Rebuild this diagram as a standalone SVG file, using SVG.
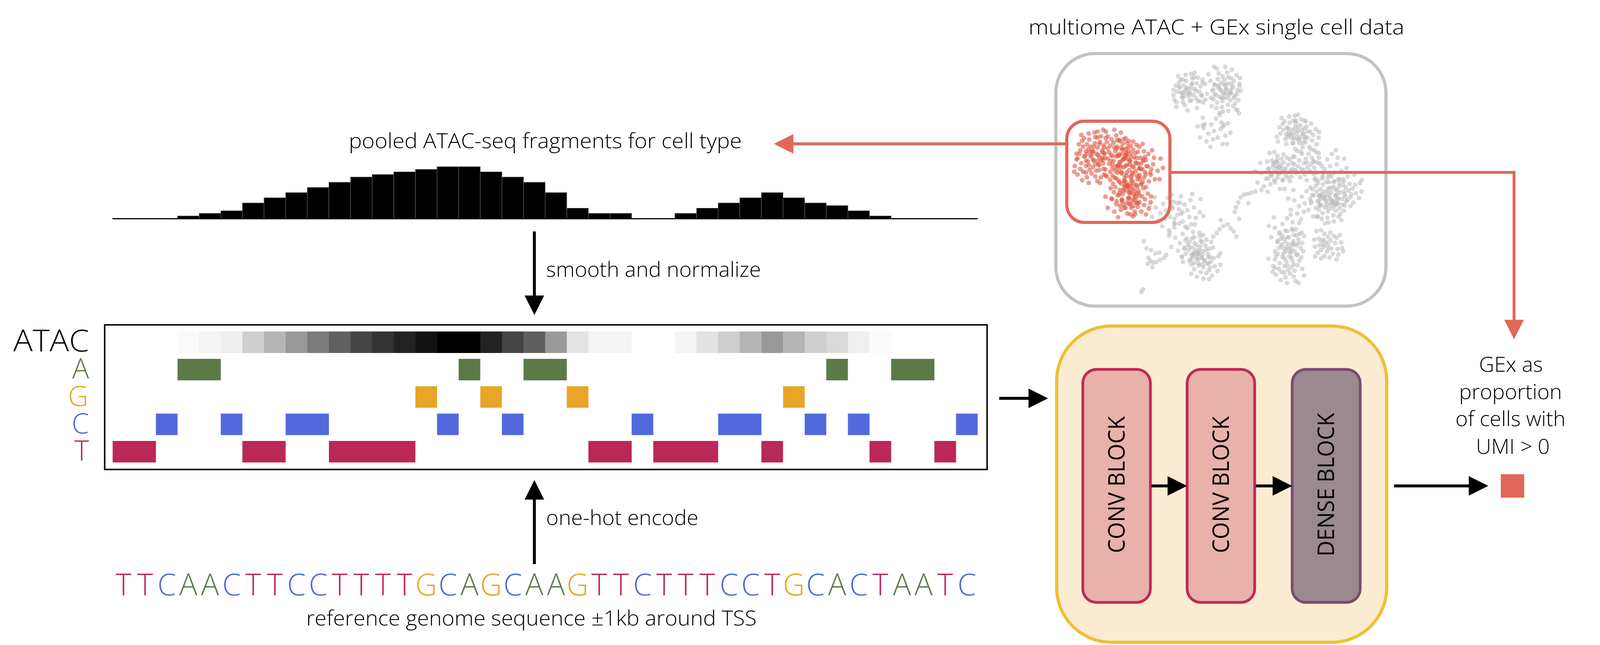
<svg xmlns="http://www.w3.org/2000/svg" xmlns:xlink="http://www.w3.org/1999/xlink" width="4100" height="1650" viewBox="0 0 4100 1650">
<style>
text{font-family:'Open Sans','Noto Sans','DejaVu Sans',sans-serif;font-weight:300;fill:#000}
.lbl{font-size:54px}
.big{font-size:77px}
.row{font-size:72px}
.blk{font-size:58px;font-weight:400}
.nA{fill:#5c7a48}.nG{fill:#e8a526}.nC{fill:#5169dd}.nT{fill:#bb2756}
.conn{fill:none;stroke:#000;stroke-width:7.5}
.rconn{fill:none;stroke:#e0685a;stroke-width:7.5}
.gray{fill:#b9b9b9;fill-opacity:.55}
.red{fill:#de5a45;fill-opacity:.6}
.bar{fill:#000;stroke:#666;stroke-width:1.2;vector-effect:non-scaling-stroke}
</style>
<defs>
<marker id="ah" viewBox="0 0 50 50" refX="30" refY="25" markerWidth="50" markerHeight="50" markerUnits="userSpaceOnUse" orient="auto"><path d="M0,0 L50,25 L0,50 z" fill="#000"/></marker>
<marker id="ahr" viewBox="0 0 50 50" refX="30" refY="25" markerWidth="50" markerHeight="50" markerUnits="userSpaceOnUse" orient="auto"><path d="M0,0 L50,25 L0,50 z" fill="#e0685a"/></marker>
<g id="P">
<circle cx="0" cy="0" r="5"/><circle cx="-8" cy="-5" r="5"/><circle cx="9" cy="-7" r="5"/><circle cx="5" cy="9" r="5"/><circle cx="-10" cy="10" r="5"/><circle cx="15" cy="2" r="5"/><circle cx="-3" cy="-15" r="5"/><circle cx="-16" cy="0" r="5"/><circle cx="12" cy="15" r="5"/><circle cx="2" cy="18" r="5"/><circle cx="20" cy="-10" r="5"/><circle cx="-18" cy="-12" r="5"/><circle cx="-5" cy="5" r="5"/><circle cx="10" cy="-20" r="5"/><circle cx="25" cy="8" r="5"/><circle cx="-12" cy="20" r="5"/><circle cx="5" cy="28" r="5"/><circle cx="18" cy="22" r="5"/><circle cx="-22" cy="8" r="5"/><circle cx="28" cy="-3" r="5"/><circle cx="-4" cy="-28" r="5"/><circle cx="22" cy="-22" r="5"/><circle cx="-25" cy="-5" r="5"/><circle cx="8" cy="-30" r="5"/><circle cx="-10" cy="30" r="5"/><circle cx="30" cy="15" r="5"/><circle cx="-30" cy="15" r="5"/><circle cx="15" cy="-32" r="5"/><circle cx="-20" cy="-25" r="5"/><circle cx="32" cy="-18" r="5"/><circle cx="0" cy="10" r="5"/><circle cx="-7" cy="15" r="5"/><circle cx="7" cy="0" r="5"/><circle cx="-14" cy="-18" r="5"/><circle cx="26" cy="28" r="5"/><circle cx="-28" cy="25" r="5"/>
</g>
<g id="Q">
<circle cx="2" cy="-2" r="5"/><circle cx="-5" cy="4" r="5"/><circle cx="10" cy="6" r="5"/><circle cx="-2" cy="-10" r="5"/><circle cx="-12" cy="-4" r="5"/><circle cx="16" cy="-6" r="5"/><circle cx="6" cy="16" r="5"/><circle cx="-7" cy="18" r="5"/><circle cx="20" cy="12" r="5"/><circle cx="-18" cy="8" r="5"/><circle cx="8" cy="-18" r="5"/><circle cx="-10" cy="-16" r="5"/><circle cx="22" cy="0" r="5"/><circle cx="0" cy="26" r="5"/><circle cx="14" cy="26" r="5"/><circle cx="-22" cy="18" r="5"/><circle cx="28" cy="-12" r="5"/><circle cx="-16" cy="30" r="5"/><circle cx="4" cy="-30" r="5"/><circle cx="30" cy="20" r="5"/><circle cx="-28" cy="0" r="5"/><circle cx="18" cy="-24" r="5"/><circle cx="-4" cy="36" r="5"/><circle cx="34" cy="6" r="5"/><circle cx="-32" cy="-14" r="5"/><circle cx="10" cy="-8" r="5"/><circle cx="4" cy="8" r="5"/><circle cx="-10" cy="10" r="5"/><circle cx="24" cy="32" r="5"/><circle cx="-20" cy="-30" r="5"/><circle cx="35" cy="-6" r="5"/><circle cx="-14" cy="-26" r="5"/>
</g>
<g id="R">
<circle cx="0" cy="0" r="5"/><circle cx="-12" cy="6" r="5"/><circle cx="14" cy="-4" r="5"/><circle cx="-6" cy="-14" r="5"/><circle cx="8" cy="14" r="5"/><circle cx="24" cy="10" r="5"/><circle cx="-22" cy="-6" r="5"/><circle cx="4" cy="-26" r="5"/><circle cx="-16" cy="22" r="5"/><circle cx="30" cy="-16" r="5"/><circle cx="-30" cy="14" r="5"/><circle cx="18" cy="28" r="5"/><circle cx="-8" cy="34" r="5"/><circle cx="35" cy="4" r="5"/><circle cx="-35" cy="-10" r="5"/><circle cx="12" cy="-34" r="5"/><circle cx="-24" cy="-28" r="5"/><circle cx="28" cy="28" r="5"/><circle cx="-2" cy="18" r="5"/><circle cx="16" cy="-18" r="5"/>
</g>
</defs>
<rect width="4100" height="1650" fill="#fff"/>

<g id="atac-histogram">
<text class="lbl" x="893" y="379" textLength="1006" lengthAdjust="spacingAndGlyphs">pooled ATAC-seq fragments for cell type</text>
<g transform="translate(288.4,559) scale(55.36,-6.63)">
<rect class="bar" x="3" y="0" width="1" height="1"/><rect class="bar" x="4" y="0" width="1" height="2"/><rect class="bar" x="5" y="0" width="1" height="3"/><rect class="bar" x="6" y="0" width="1" height="6"/><rect class="bar" x="7" y="0" width="1" height="8"/><rect class="bar" x="8" y="0" width="1" height="10"/><rect class="bar" x="9" y="0" width="1" height="12"/><rect class="bar" x="10" y="0" width="1" height="14"/><rect class="bar" x="11" y="0" width="1" height="16"/><rect class="bar" x="12" y="0" width="1" height="17"/><rect class="bar" x="13" y="0" width="1" height="18"/><rect class="bar" x="14" y="0" width="1" height="19"/><rect class="bar" x="15" y="0" width="1" height="20"/><rect class="bar" x="16" y="0" width="1" height="20"/><rect class="bar" x="17" y="0" width="1" height="18"/><rect class="bar" x="18" y="0" width="1" height="16"/><rect class="bar" x="19" y="0" width="1" height="14"/><rect class="bar" x="20" y="0" width="1" height="10"/><rect class="bar" x="21" y="0" width="1" height="4"/><rect class="bar" x="22" y="0" width="1" height="2"/><rect class="bar" x="23" y="0" width="1" height="2"/><rect class="bar" x="26" y="0" width="1" height="2"/><rect class="bar" x="27" y="0" width="1" height="4"/><rect class="bar" x="28" y="0" width="1" height="6"/><rect class="bar" x="29" y="0" width="1" height="8"/><rect class="bar" x="30" y="0" width="1" height="10"/><rect class="bar" x="31" y="0" width="1" height="8"/><rect class="bar" x="32" y="0" width="1" height="6"/><rect class="bar" x="33" y="0" width="1" height="5"/><rect class="bar" x="34" y="0" width="1" height="3"/><rect class="bar" x="35" y="0" width="1" height="1"/>
</g>
<line x1="288" y1="559.5" x2="2503" y2="559.5" stroke="#000" stroke-width="3"/>
</g>

<g id="encoding-matrix">
<rect x="268" y="831" width="2259" height="370" fill="#fff" stroke="#111" stroke-width="4"/>
<g transform="translate(288.4,848) scale(55.36,1)">
<rect x="3" width="1.02" height="55" fill="#fafafa"/><rect x="4" width="1.02" height="55" fill="#f3f3f3"/><rect x="5" width="1.02" height="55" fill="#eeeeee"/><rect x="6" width="1.02" height="55" fill="#cfcfcf"/><rect x="7" width="1.02" height="55" fill="#b5b5b5"/><rect x="8" width="1.02" height="55" fill="#989898"/><rect x="9" width="1.02" height="55" fill="#7b7b7b"/><rect x="10" width="1.02" height="55" fill="#606060"/><rect x="11" width="1.02" height="55" fill="#444444"/><rect x="12" width="1.02" height="55" fill="#333333"/><rect x="13" width="1.02" height="55" fill="#222222"/><rect x="14" width="1.02" height="55" fill="#121212"/><rect x="15" width="2.02" height="55" fill="#000000"/><rect x="17" width="1.02" height="55" fill="#222222"/><rect x="18" width="1.02" height="55" fill="#444444"/><rect x="19" width="1.02" height="55" fill="#5f5f5f"/><rect x="20" width="1.02" height="55" fill="#9a9a9a"/><rect x="21" width="1.02" height="55" fill="#e3e3e3"/><rect x="22" width="2" height="55" fill="#f4f4f4"/><rect x="26" width="1.02" height="55" fill="#f4f4f4"/><rect x="27" width="1.02" height="55" fill="#e2e2e2"/><rect x="28" width="1.02" height="55" fill="#cecece"/><rect x="29" width="1.02" height="55" fill="#b5b5b5"/><rect x="30" width="1.02" height="55" fill="#989898"/><rect x="31" width="1.02" height="55" fill="#b5b5b5"/><rect x="32" width="1.02" height="55" fill="#cecece"/><rect x="33" width="1.02" height="55" fill="#dadada"/><rect x="34" width="1.02" height="55" fill="#efefef"/><rect x="35" width="1" height="55" fill="#fbfbfb"/>
</g>
<g transform="translate(288.4,0) scale(55.36,1)">
<g class="nA"><rect x="3" y="918" width="2" height="55"/><rect x="16" y="918" width="1" height="55"/><rect x="19" y="918" width="2" height="55"/><rect x="33" y="918" width="1" height="55"/><rect x="36" y="918" width="2" height="55"/></g>
<g class="nG"><rect x="14" y="988" width="1" height="55"/><rect x="17" y="988" width="1" height="55"/><rect x="21" y="988" width="1" height="55"/><rect x="31" y="988" width="1" height="55"/></g>
<g class="nC"><rect x="2" y="1058" width="1" height="55"/><rect x="5" y="1058" width="1" height="55"/><rect x="8" y="1058" width="2" height="55"/><rect x="15" y="1058" width="1" height="55"/><rect x="18" y="1058" width="1" height="55"/><rect x="24" y="1058" width="1" height="55"/><rect x="28" y="1058" width="2" height="55"/><rect x="32" y="1058" width="1" height="55"/><rect x="34" y="1058" width="1" height="55"/><rect x="39" y="1058" width="1" height="55"/></g>
<g class="nT"><rect x="0" y="1128" width="2" height="55"/><rect x="6" y="1128" width="2" height="55"/><rect x="10" y="1128" width="4" height="55"/><rect x="22" y="1128" width="2" height="55"/><rect x="25" y="1128" width="3" height="55"/><rect x="30" y="1128" width="1" height="55"/><rect x="35" y="1128" width="1" height="55"/><rect x="38" y="1128" width="1" height="55"/></g>
</g>
<g text-anchor="end">
<text class="big" x="228" y="899" textLength="194" lengthAdjust="spacingAndGlyphs">ATAC</text>
<text class="row nA" x="228" y="968">A</text>
<text class="row nG" x="226" y="1039">G</text>
<text class="row nC" x="228" y="1109">C</text>
<text class="row nT" x="228" y="1178">T</text>
</g>
</g>

<g id="sequence">
<text class="big" y="1523" text-anchor="middle"><tspan class="nT" x="316.1">T</tspan><tspan class="nT" x="371.4">T</tspan><tspan class="nC" x="426.8">C</tspan><tspan class="nA" x="482.2">A</tspan><tspan class="nA" x="537.5">A</tspan><tspan class="nC" x="592.9">C</tspan><tspan class="nT" x="648.2">T</tspan><tspan class="nT" x="703.6">T</tspan><tspan class="nC" x="759.0">C</tspan><tspan class="nC" x="814.3">C</tspan><tspan class="nT" x="869.7">T</tspan><tspan class="nT" x="925.0">T</tspan><tspan class="nT" x="980.4">T</tspan><tspan class="nT" x="1035.8">T</tspan><tspan class="nG" x="1091.1">G</tspan><tspan class="nC" x="1146.5">C</tspan><tspan class="nA" x="1201.8">A</tspan><tspan class="nG" x="1257.2">G</tspan><tspan class="nC" x="1312.6">C</tspan><tspan class="nA" x="1367.9">A</tspan><tspan class="nA" x="1423.3">A</tspan><tspan class="nG" x="1478.6">G</tspan><tspan class="nT" x="1534.0">T</tspan><tspan class="nT" x="1589.4">T</tspan><tspan class="nC" x="1644.7">C</tspan><tspan class="nT" x="1700.1">T</tspan><tspan class="nT" x="1755.4">T</tspan><tspan class="nT" x="1810.8">T</tspan><tspan class="nC" x="1866.2">C</tspan><tspan class="nC" x="1921.5">C</tspan><tspan class="nT" x="1976.9">T</tspan><tspan class="nG" x="2032.2">G</tspan><tspan class="nC" x="2087.6">C</tspan><tspan class="nA" x="2143.0">A</tspan><tspan class="nC" x="2198.3">C</tspan><tspan class="nT" x="2253.7">T</tspan><tspan class="nA" x="2309.0">A</tspan><tspan class="nA" x="2364.4">A</tspan><tspan class="nT" x="2419.8">T</tspan><tspan class="nC" x="2475.1">C</tspan></text>
<text class="lbl" x="784" y="1600" textLength="1153" lengthAdjust="spacingAndGlyphs">reference genome sequence ±1kb around TSS</text>
</g>

<g id="umap">
<text class="lbl" x="2633" y="88" textLength="962" lengthAdjust="spacingAndGlyphs">multiome ATAC + GEx single cell data</text>
<rect x="2703" y="137" width="845" height="646" rx="100" fill="#fff" stroke="#c2c2c2" stroke-width="8"/>
<g class="gray">
<use xlink:href="#P" transform="translate(3040,225) scale(1.2)"/>
<use xlink:href="#R" transform="translate(3045,240) rotate(90) scale(1.2)"/>
<use xlink:href="#Q" transform="translate(3132,207) scale(1.2)"/>
<use xlink:href="#P" transform="translate(3140,250) rotate(180) scale(1.2)"/>
<use xlink:href="#R" transform="translate(3108,335) scale(1.2)"/>
<use xlink:href="#P" transform="translate(3305,332) scale(1.2)"/>
<use xlink:href="#Q" transform="translate(3335,345) scale(1.2)"/>
<use xlink:href="#P" transform="translate(3280,425) rotate(90) scale(1.2)"/>
<use xlink:href="#Q" transform="translate(3350,425) rotate(180) scale(1.2)"/>
<use xlink:href="#R" transform="translate(3255,450) scale(1.2)"/>
<use xlink:href="#R" transform="translate(3405,425) scale(1.2)"/>
<use xlink:href="#P" transform="translate(3390,490) scale(1.2)"/>
<use xlink:href="#Q" transform="translate(3450,485) rotate(90) scale(1.2)"/>
<use xlink:href="#R" transform="translate(3340,520) scale(1.2)"/>
<use xlink:href="#P" transform="translate(3410,533) rotate(180) scale(1.2)"/>
<use xlink:href="#R" transform="translate(2985,538) scale(1.2)"/>
<use xlink:href="#R" transform="translate(3040,538) rotate(90) scale(1.2)"/>
<use xlink:href="#P" transform="translate(3062,640) scale(1.2)"/>
<use xlink:href="#Q" transform="translate(3088,672) rotate(90) scale(1.2)"/>
<use xlink:href="#R" transform="translate(3035,615) scale(1.2)"/>
<use xlink:href="#P" transform="translate(3300,625) scale(1.2)"/>
<use xlink:href="#Q" transform="translate(3300,688) rotate(180) scale(1.2)"/>
<use xlink:href="#R" transform="translate(3290,590) scale(1.2)"/>
<use xlink:href="#P" transform="translate(3400,625) rotate(90) scale(1.2)"/>
<circle cx="3085" cy="215" r="6"/><circle cx="3090" cy="240" r="6"/><circle cx="3080" cy="262" r="6"/><circle cx="3100" cy="250" r="6"/><circle cx="3079" cy="321" r="6"/><circle cx="3084" cy="318" r="6"/><circle cx="3134" cy="319" r="6"/><circle cx="3130" cy="324" r="6"/><circle cx="3168" cy="282" r="6"/><circle cx="3172" cy="290" r="6"/>
<circle cx="3161" cy="542" r="6"/><circle cx="3164" cy="530" r="6"/><circle cx="3170" cy="518" r="6"/><circle cx="3176" cy="505" r="6"/><circle cx="3185" cy="498" r="6"/><circle cx="3194" cy="496" r="6"/><circle cx="3203" cy="493" r="6"/><circle cx="3214" cy="490" r="6"/><circle cx="3229" cy="486" r="6"/><circle cx="3196" cy="520" r="6"/><circle cx="3172" cy="560" r="6"/>
<circle cx="3106" cy="605" r="6"/><circle cx="3115" cy="596" r="6"/><circle cx="3122" cy="586" r="6"/><circle cx="3132" cy="578" r="6"/><circle cx="3143" cy="574" r="6"/><circle cx="3150" cy="584" r="6"/><circle cx="3158" cy="592" r="6"/><circle cx="3165" cy="605" r="6"/><circle cx="3125" cy="563" r="6"/>
<circle cx="2928" cy="617" r="6"/><circle cx="2935" cy="635" r="6"/><circle cx="2947" cy="640" r="6"/><circle cx="2958" cy="648" r="6"/><circle cx="2968" cy="646" r="6"/><circle cx="2940" cy="660" r="6"/><circle cx="2945" cy="667" r="6"/><circle cx="2952" cy="672" r="6"/><circle cx="2960" cy="670" r="6"/><circle cx="2970" cy="665" r="6"/><circle cx="2980" cy="660" r="6"/><circle cx="2938" cy="675" r="6"/><circle cx="2950" cy="684" r="6"/><circle cx="2985" cy="652" r="6"/>
<circle cx="2922" cy="747" r="6"/><circle cx="2926" cy="740" r="6"/><circle cx="2993" cy="589" r="6"/><circle cx="2994" cy="595" r="6"/><circle cx="3247" cy="662" r="6"/><circle cx="3264" cy="685" r="6"/>
</g>
<g class="red">
<use xlink:href="#P" transform="translate(2792,375) scale(1.2)"/>
<use xlink:href="#Q" transform="translate(2848,368) scale(1.2)"/>
<use xlink:href="#P" transform="translate(2895,392) rotate(90) scale(1.2)"/>
<use xlink:href="#Q" transform="translate(2792,432) rotate(180) scale(1.2)"/>
<use xlink:href="#P" transform="translate(2848,430) rotate(270) scale(1.2)"/>
<use xlink:href="#Q" transform="translate(2905,440) scale(1.2)"/>
<use xlink:href="#R" transform="translate(2935,425) scale(1.2)"/>
<use xlink:href="#P" transform="translate(2885,488) rotate(180) scale(1.2)"/>
<use xlink:href="#Q" transform="translate(2905,510) scale(1.2)"/>
<use xlink:href="#R" transform="translate(2872,515) scale(1.2)"/>
</g>
<rect x="2731" y="310" width="264" height="259" rx="45" fill="none" stroke="#e0685a" stroke-width="8"/>
</g>

<g id="model">
<rect x="2705" y="834" width="845" height="809" rx="140" fill="#fbebd2" stroke="#efbf33" stroke-width="8"/>
<g id="conv1">
<rect x="2772" y="945" width="173" height="596" rx="35" fill="#e8b2ab" stroke="#bf2a57" stroke-width="7"/>
<text class="blk" transform="translate(2879,1240) rotate(-90)" text-anchor="middle" textLength="350" lengthAdjust="spacingAndGlyphs">CONV BLOCK</text>
</g>
<g id="conv2">
<rect x="3039" y="945" width="173" height="596" rx="35" fill="#e8b2ab" stroke="#bf2a57" stroke-width="7"/>
<text class="blk" transform="translate(3146,1240) rotate(-90)" text-anchor="middle" textLength="350" lengthAdjust="spacingAndGlyphs">CONV BLOCK</text>
</g>
<g id="dense">
<rect x="3308" y="945" width="174" height="596" rx="35" fill="#9a8a90" stroke="#7a4a6f" stroke-width="7"/>
<text class="blk" transform="translate(3415,1240) rotate(-90)" text-anchor="middle" textLength="367" lengthAdjust="spacingAndGlyphs">DENSE BLOCK</text>
</g>
</g>

<g id="output">
<text class="lbl" text-anchor="middle"><tspan x="3868" y="951">GEx as</tspan><tspan x="3867" y="1021">proportion</tspan><tspan x="3867" y="1090">of cells with</tspan><tspan x="3873" y="1161">UMI &gt; 0</tspan></text>
<rect x="3842" y="1213" width="60" height="60" fill="#e0685a"/>
</g>

<g id="connectors">
<line class="conn" x1="1368" y1="592" x2="1368" y2="786" marker-end="url(#ah)"/>
<text class="lbl" x="1398" y="708" textLength="550" lengthAdjust="spacingAndGlyphs">smooth and normalize</text>
<line class="conn" x1="1368" y1="1443" x2="1368" y2="1248" marker-end="url(#ah)"/>
<text class="lbl" x="1398" y="1343" textLength="390" lengthAdjust="spacingAndGlyphs">one-hot encode</text>
<line class="conn" x1="2558" y1="1019" x2="2663" y2="1019" marker-end="url(#ah)"/>
<line class="conn" x1="2948" y1="1243" x2="3019" y2="1243" marker-end="url(#ah)"/>
<line class="conn" x1="3215" y1="1243" x2="3288" y2="1243" marker-end="url(#ah)"/>
<line class="conn" x1="3569" y1="1243" x2="3790" y2="1243" marker-end="url(#ah)"/>
<line class="rconn" x1="2731" y1="368" x2="2001" y2="368" marker-end="url(#ahr)"/>
<path class="rconn" d="M2995,441 H3876 V848" marker-end="url(#ahr)"/>
</g>
</svg>
